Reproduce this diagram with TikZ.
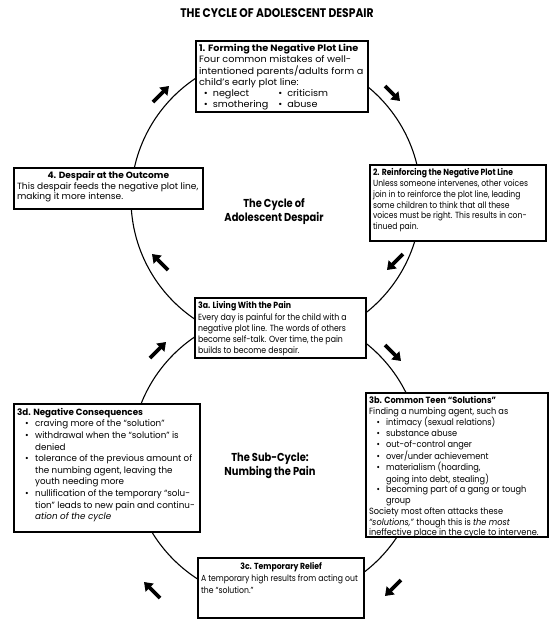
\documentclass[tikz,border=0pt]{standalone}
\usepackage{fontspec}
\usepackage{graphicx}
\setmainfont[FakeStretch=0.86]{Poppins}
\usetikzlibrary{arrows.meta}
% #1 width, #2 height, #3 horizontal scale, #4 font size, #5 baselineskip, #6 content
\newcommand{\bt}[6]{\parbox[t][#2][t]{#1}{\fontsize{#4}{#5}\selectfont\scalebox{#3}[1]{\begin{tabular}[t]{@{}l@{}}#6\end{tabular}}}}
\newcommand{\bul}{\hspace*{7pt}\makebox[9pt][l]{\textbullet}}
\newcommand{\cont}{\hspace*{16pt}}
\begin{document}
\begin{tikzpicture}[x=1pt,y=-1pt,
  box/.style={draw, line width=2.2pt, fill=white, inner sep=3pt, anchor=north west},
  cyc/.style={line width=1.1pt},
  bigarrow/.style={line width=3.6pt, -{Triangle[length=8pt,width=11pt]}},
  heading/.style={font=\fontsize{11.5}{14}\selectfont\bfseries, align=center},
  ttl/.style={font=\fontsize{12.5}{14}\selectfont\bfseries}]
\path[fill=white] (0,0) rectangle (550,633);
\node[ttl] (title) at (277,13) {THE CYCLE OF ADOLESCENT DESPAIR};
\draw[cyc] (276,199) circle [radius=145pt];
\draw[cyc] (276,457) circle [radius=145pt];

\node[box] (b1) at (195,40) {\bt{166pt}{65pt}{1.22}{9.2}{11}{%
\textbf{1. Forming the Negative Plot Line}\\
Four common mistakes of well-\\
intentioned parents/adults form a\\
child’s early plot line:\\
\hspace*{4pt}\makebox[61pt][l]{\textbullet\hspace{4pt}neglect}\textbullet\hspace{4pt}criticism\\
\hspace*{4pt}\makebox[61pt][l]{\textbullet\hspace{4pt}smothering}\textbullet\hspace{4pt}abuse}};

\node[box] (b2) at (369,164) {\bt{170pt}{70pt}{1.0}{8.9}{10.8}{%
\textbf{2. Reinforcing the Negative Plot Line}\\
Unless someone intervenes, other voices\\
join in to reinforce the plot line, leading\\
some children to think that all these\\
voices must be right. This results in con-\\
tinued pain.}};

\node[box] (b4) at (13,167) {\bt{183pt}{35pt}{1.17}{9}{10.6}{%
\makebox[156pt]{\textbf{4. Despair at the Outcome}}\\
This despair feeds the negative plot line,\\
making it more intense.}};

\node[box] (b3a) at (194,297) {\bt{165pt}{54pt}{1.02}{8.9}{11.2}{%
\textbf{3a. Living With the Pain}\\
Every day is painful for the child with a\\
negative plot line. The words of others\\
become self-talk. Over time, the pain\\
builds to become despair.}};

\node[box] (b3d) at (13,403) {\bt{180pt}{122pt}{1.13}{9}{11.6}{%
\textbf{3d. Negative Consequences}\\
\bul craving more of the “solution”\\
\bul withdrawal when the “solution” is\\
\cont denied\\
\bul tolerance of the previous amount of\\
\cont the numbing agent, leaving the\\
\cont youth needing more\\
\bul nullification of the temporary “solu-\\
\cont tion” leads to new pain and continu-\\
\cont \textit{ation of the cycle}}};

\node[box] (b3b) at (365,392) {\bt{176pt}{138pt}{1.06}{9}{10.7}{%
\textbf{3b. Common Teen “Solutions”}\\
Finding a numbing agent, such as\\
\bul intimacy (sexual relations)\\
\bul substance abuse\\
\bul out-of-control anger\\
\bul over/under achievement\\
\bul materialism (hoarding,\\
\cont going into debt, stealing)\\
\bul becoming part of a gang or tough\\
\cont group\\
Society most often attacks these\\
\textit{“solutions,”} though this is \textit{the most}\\
ineffective place in the cycle to intervene.}};

\node[box] (b3c) at (197,557) {\bt{160pt}{54pt}{1.02}{8.8}{12}{%
\makebox[157pt]{\textbf{3c. Temporary Relief}}\\
A temporary high results from acting out\\
the “solution.”}};

\node[heading] (c1) at (274,212) {The Cycle of\\Adolescent Despair};
\node[heading] (c2) at (270,466) {The Sub-Cycle:\\Numbing the Pain};

\coordinate (a1s) at (153,102); \coordinate (a1e) at (169,86);
\coordinate (a2s) at (385,86);  \coordinate (a2e) at (400,101);
\coordinate (a3s) at (168,270); \coordinate (a3e) at (152,254);
\coordinate (a4s) at (403,254); \coordinate (a4e) at (387,270);
\coordinate (a5s) at (150,358); \coordinate (a5e) at (166,342);
\coordinate (a6s) at (385,345); \coordinate (a6e) at (401,361);
\coordinate (a7s) at (401,580); \coordinate (a7e) at (385,596);
\coordinate (a8s) at (160,598); \coordinate (a8e) at (144,582);
\foreach \i in {1,...,8} \draw[bigarrow] (a\i s) -- (a\i e);
\end{tikzpicture}
\end{document}
